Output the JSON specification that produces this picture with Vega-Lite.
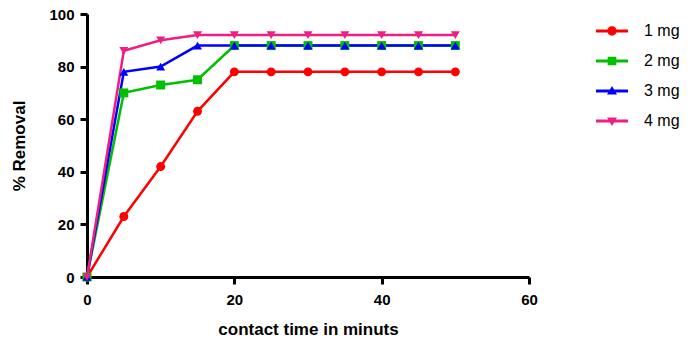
{
  "$schema": "https://vega.github.io/schema/vega-lite/v6.json",
  "width": 442,
  "height": 263,
  "autosize": {"type": "none"},
  "padding": {"left": 87, "top": 14, "right": 169, "bottom": 67},
  "background": "white",
  "config": {
    "view": {"stroke": null},
    "font": "Liberation Sans",
    "axis": {
      "grid": false,
      "labelFlush": false,
      "domainColor": "black",
      "domainWidth": 3,
      "tickColor": "black",
      "tickWidth": 3,
      "tickSize": 7,
      "labelFont": "Liberation Sans",
      "labelFontWeight": "bold",
      "labelFontSize": 15,
      "labelColor": "black",
      "titleFont": "Liberation Sans",
      "titleFontWeight": "bold",
      "titleFontSize": 17,
      "titleColor": "black"
    }
  },
  "data": {
    "values": [
      {"t": 0, "r": 0, "s": "1 mg"}, {"t": 5, "r": 23, "s": "1 mg"}, {"t": 10, "r": 42, "s": "1 mg"}, {"t": 15, "r": 63, "s": "1 mg"}, {"t": 20, "r": 78, "s": "1 mg"}, {"t": 25, "r": 78, "s": "1 mg"}, {"t": 30, "r": 78, "s": "1 mg"}, {"t": 35, "r": 78, "s": "1 mg"}, {"t": 40, "r": 78, "s": "1 mg"}, {"t": 45, "r": 78, "s": "1 mg"}, {"t": 50, "r": 78, "s": "1 mg"},
      {"t": 0, "r": 0, "s": "2 mg"}, {"t": 5, "r": 70, "s": "2 mg"}, {"t": 10, "r": 73, "s": "2 mg"}, {"t": 15, "r": 75, "s": "2 mg"}, {"t": 20, "r": 88, "s": "2 mg"}, {"t": 25, "r": 88, "s": "2 mg"}, {"t": 30, "r": 88, "s": "2 mg"}, {"t": 35, "r": 88, "s": "2 mg"}, {"t": 40, "r": 88, "s": "2 mg"}, {"t": 45, "r": 88, "s": "2 mg"}, {"t": 50, "r": 88, "s": "2 mg"},
      {"t": 0, "r": 0, "s": "3 mg"}, {"t": 5, "r": 78, "s": "3 mg"}, {"t": 10, "r": 80, "s": "3 mg"}, {"t": 15, "r": 88, "s": "3 mg"}, {"t": 20, "r": 88, "s": "3 mg"}, {"t": 25, "r": 88, "s": "3 mg"}, {"t": 30, "r": 88, "s": "3 mg"}, {"t": 35, "r": 88, "s": "3 mg"}, {"t": 40, "r": 88, "s": "3 mg"}, {"t": 45, "r": 88, "s": "3 mg"}, {"t": 50, "r": 88, "s": "3 mg"},
      {"t": 0, "r": 0, "s": "4 mg"}, {"t": 5, "r": 86, "s": "4 mg"}, {"t": 10, "r": 90, "s": "4 mg"}, {"t": 15, "r": 92, "s": "4 mg"}, {"t": 20, "r": 92, "s": "4 mg"}, {"t": 25, "r": 92, "s": "4 mg"}, {"t": 30, "r": 92, "s": "4 mg"}, {"t": 35, "r": 92, "s": "4 mg"}, {"t": 40, "r": 92, "s": "4 mg"}, {"t": 45, "r": 92, "s": "4 mg"}, {"t": 50, "r": 92, "s": "4 mg"}
    ]
  },
  "encoding": {
    "x": {"field": "t", "type": "quantitative", "scale": {"domain": [0, 60], "nice": false, "zero": true},
          "axis": {"values": [0, 20, 40, 60], "title": "contact time in minuts", "labelPadding": 8, "titlePadding": 14}},
    "y": {"field": "r", "type": "quantitative", "scale": {"domain": [0, 100], "nice": false},
          "axis": {"values": [0, 20, 40, 60, 80, 100], "title": "% Removal", "labelPadding": 6, "titlePadding": 20}}
  },
  "layer": [
    {
      "mark": {"type": "line", "strokeWidth": 2.5},
      "encoding": {
        "color": {"field": "s", "type": "nominal", "legend": null,
                  "scale": {"domain": ["1 mg", "2 mg", "3 mg", "4 mg"], "range": ["#FF0000", "#00C000", "#0000FF", "#F01E82"]}},
        "order": {"field": "t"}
      }
    },
    {
      "mark": {"type": "point", "filled": true, "size": 80, "opacity": 1},
      "encoding": {
        "color": {"field": "s", "type": "nominal", "legend": null,
                  "scale": {"domain": ["1 mg", "2 mg", "3 mg", "4 mg"], "range": ["#FF0000", "#00C000", "#0000FF", "#F01E82"]}},
        "shape": {"field": "s", "type": "nominal", "legend": null,
                  "scale": {"domain": ["1 mg", "2 mg", "3 mg", "4 mg"], "range": ["circle", "square", "triangle-up", "triangle-down"]}}
      }
    },
    {
      "mark": {"type": "point", "filled": true, "size": 80, "opacity": 0},
      "encoding": {
        "color": {"field": "s", "type": "nominal",
                  "scale": {"domain": ["1 mg", "2 mg", "3 mg", "4 mg"], "range": ["#FF0000", "#00C000", "#0000FF", "#F01E82"]},
                  "legend": {"title": null, "orient": "none", "legendX": 517, "legendY": 9,
                             "symbolSize": 256, "symbolOpacity": 1, "symbolStrokeWidth": 0,
                             "labelFont": "Liberation Sans", "labelFontSize": 16, "labelColor": "black",
                             "labelOffset": 24, "rowPadding": 14, "padding": 0}},
        "shape": {"field": "s", "type": "nominal",
                  "scale": {"domain": ["1 mg", "2 mg", "3 mg", "4 mg"],
                            "range": [
                              "M-2,-0.18H2V0.18H-2Z M-0.58,0A0.58,0.58 0 1,1 0.58,0A0.58,0.58 0 1,1 -0.58,0Z",
                              "M-2,-0.18H2V0.18H-2Z M-0.54,-0.54H0.54V0.54H-0.54Z",
                              "M-2,-0.18H2V0.18H-2Z M-0.62,0.45L0,-0.62L0.62,0.45Z",
                              "M-2,-0.18H2V0.18H-2Z M-0.62,-0.45L0.62,-0.45L0,0.62Z"
                            ]},
                  "legend": {"title": null, "orient": "none", "legendX": 517, "legendY": 9,
                             "symbolSize": 256, "symbolOpacity": 1, "symbolStrokeWidth": 0,
                             "labelFont": "Liberation Sans", "labelFontSize": 16, "labelColor": "black",
                             "labelOffset": 24, "rowPadding": 14, "padding": 0}}
      }
    }
  ],
  "resolve": {"scale": {"shape": "independent", "color": "independent"}, "legend": {"shape": "independent", "color": "independent"}}
}
